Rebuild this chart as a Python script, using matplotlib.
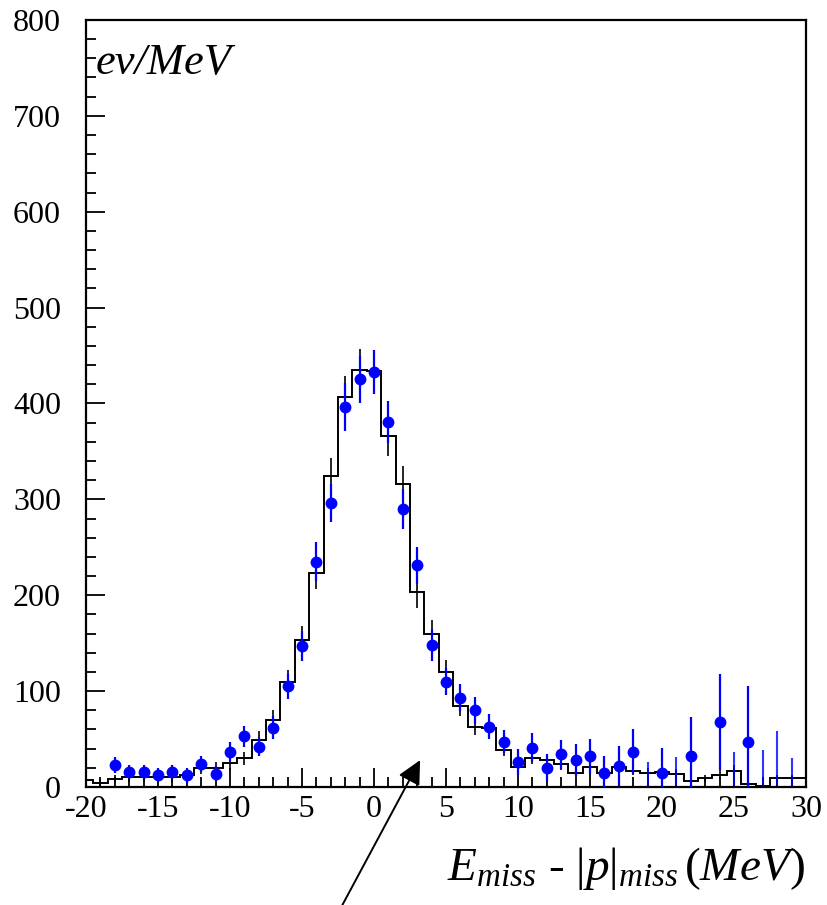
import matplotlib.pyplot as plt
import numpy as np

plt.rcParams['font.family'] = 'Liberation Serif'
plt.rcParams['mathtext.fontset'] = 'custom'
plt.rcParams['mathtext.rm'] = 'Liberation Serif'
plt.rcParams['mathtext.it'] = 'Liberation Serif:italic'
plt.rcParams['axes.unicode_minus'] = False

# Monte Carlo histogram, bins of 1 MeV centred on integers
mc_x = np.arange(-20, 31)
mc_counts = [7, 4, 8, 10, 10, 10, 10, 12, 20, 20,
             25, 30, 49, 70, 109, 153, 223, 324, 407, 435,
             434, 366, 316, 203, 160, 120, 84, 63, 62, 39,
             21, 30, 28, 24, 15, 21, 15, 21, 17, 15,
             16, 14, 6, 9, 13, 17, 3, 1, 9, 9, 9]
mc_err = [4, 3, 4, 5, 5, 5, 5, 5, 6, 6,
          7, 7, 9, 10, 13, 15, 17, 19, 22, 22,
          22, 21, 19, 16, 14, 12, 10, 9, 9, 7,
          6, 6, 6, 6, 5, 6, 5, 6, 5, 5,
          5, 5, 4, 4, 5, 6, 3, 2, 4, 4, 4]

# measured events
data_x = [-18, -17, -16, -15, -14, -13, -12, -11, -10, -9,
          -8, -7, -6, -5, -4, -3, -2, -1, 0, 1,
          2, 3, 4, 5, 6, 7, 8, 9, 10, 11,
          12, 13, 14, 15, 16, 17, 18, 20, 22, 24, 26]
data_y = [23, 16, 16, 13, 16, 12, 24, 14, 37, 53,
          42, 62, 105, 147, 235, 296, 396, 425, 433, 381,
          290, 231, 148, 110, 93, 80, 63, 47, 26, 41,
          20, 34, 28, 32, 15, 22, 37, 15, 32, 68, 47]
data_err = [8, 7, 7, 7, 7, 8, 8, 8, 10, 11,
            10, 12, 13, 16, 20, 20, 25, 25, 23, 22,
            21, 19, 17, 14, 14, 14, 13, 12, 14, 15,
            14, 15, 17, 18, 17, 21, 23, 26, 41, 50, 58]

# empty data bins: only the upper error is drawn
empty_x = [19, 21, 25, 27, 28, 29]
empty_err = [26, 31, 37, 39, 58, 30]

fig = plt.figure(figsize=(8.27, 9.05), dpi=100)
ax = fig.add_axes([0.104, 0.1304, 0.8706, 0.8476])

edges = np.arange(-20.5, 31.5, 1)
ax.stairs(mc_counts, edges, color='black', lw=1.4)
ax.errorbar(mc_x, mc_counts, yerr=mc_err, fmt='none', ecolor='black', elinewidth=1.2)

ax.vlines(empty_x, 0, empty_err, color='blue', lw=1.5, alpha=0.8)
ax.errorbar(data_x, data_y, yerr=data_err, xerr=0.35, fmt='o', color='blue',
            ms=7.5, elinewidth=1.6, capsize=0, zorder=3)

ax.set_xlim(-20, 30)
ax.set_ylim(0, 800)
ax.set_xticks(np.arange(-20, 31, 5))
ax.set_xticks(np.arange(-20, 31, 1), minor=True)
ax.set_yticks(np.arange(0, 801, 100))
ax.set_yticks(np.arange(0, 801, 20), minor=True)
ax.tick_params(which='both', direction='in', top=False, right=False, labelsize=23, width=1.3)
ax.tick_params(which='major', length=14)
ax.tick_params(which='minor', length=7)
ax.tick_params(axis='x', pad=6)
ax.tick_params(axis='y', pad=18)
for s in ax.spines.values():
    s.set_linewidth(1.6)

ax.text(0.013, 0.97, 'ev/MeV', transform=ax.transAxes, fontsize=32,
        style='italic', ha='left', va='top')

fig.text(0.973, 0.028, r'$E_{miss}$ - $|p|_{miss}\,(MeV)$', fontsize=34,
         ha='right', va='baseline')

ax.annotate('', xy=(3.2, 28), xycoords='data',
            xytext=(0.414, 0.0), textcoords='figure fraction',
            arrowprops=dict(arrowstyle='-|>', color='black', lw=1.4,
                            mutation_scale=36, shrinkA=0, shrinkB=0),
            annotation_clip=False)

fig.savefig('out.png', dpi=100)
